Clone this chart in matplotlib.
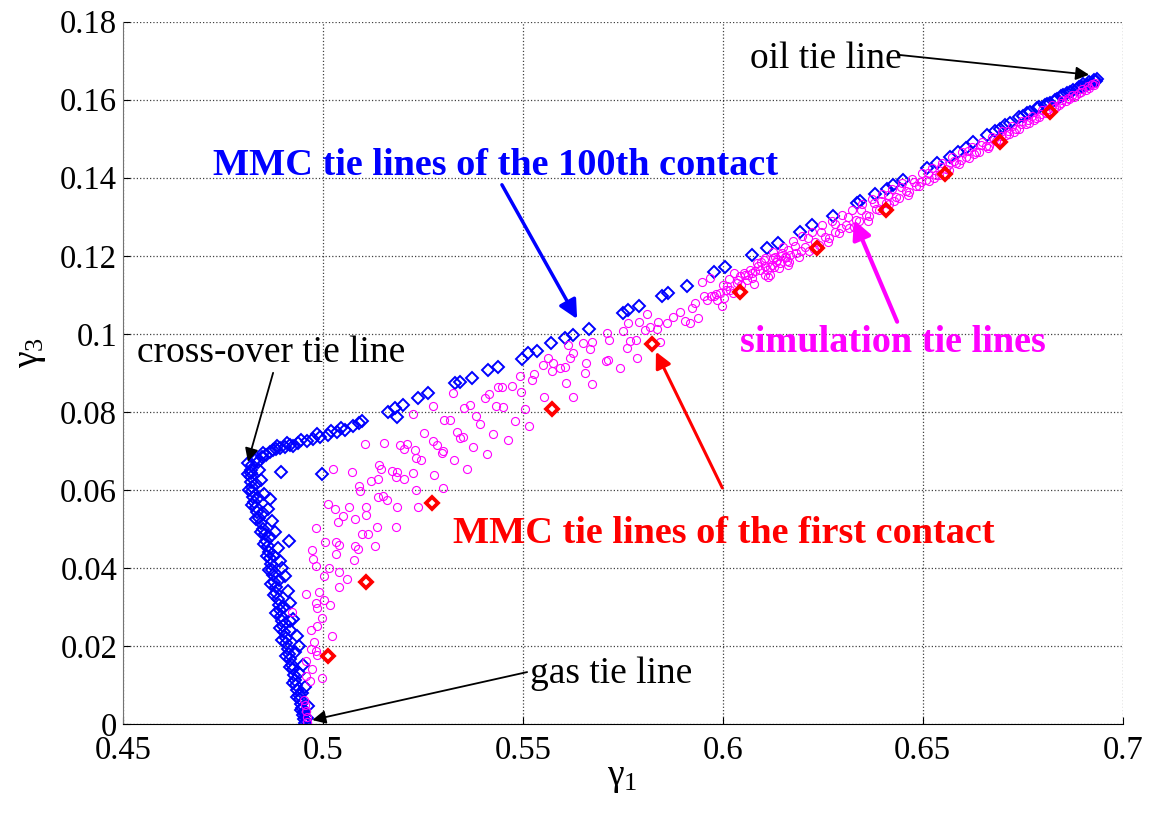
import numpy as np
import matplotlib
matplotlib.use('Agg')
import matplotlib.pyplot as plt

plt.rcParams['font.family'] = ['Liberation Serif', 'DejaVu Serif']

# MMC tie lines of the 100th contact (gamma_1, gamma_3)
mmc100 = np.array([
    # gas side branch
    (0.4955, 0.0003), (0.4953, 0.0012), (0.4950, 0.0022), (0.4952, 0.0030), (0.4947, 0.0041),
    (0.4945, 0.0052), (0.4942, 0.0063), (0.4940, 0.0075), (0.4936, 0.0088), (0.4934, 0.0100),
    (0.4930, 0.0112), (0.4928, 0.0125), (0.4925, 0.0140), (0.4922, 0.0152), (0.4919, 0.0166),
    (0.4915, 0.0180), (0.4913, 0.0193), (0.4909, 0.0207), (0.4907, 0.0220), (0.4904, 0.0236),
    (0.4900, 0.0250), (0.4898, 0.0263), (0.4895, 0.0278), (0.4892, 0.0292), (0.4890, 0.0305),
    (0.4887, 0.0320), (0.4884, 0.0336), (0.4882, 0.0350), (0.4879, 0.0365), (0.4876, 0.0381),
    (0.4874, 0.0395), (0.4871, 0.0410), (0.4868, 0.0425), (0.4865, 0.0440), (0.4862, 0.0455),
    (0.4858, 0.0470), (0.4855, 0.0486), (0.4850, 0.0500), (0.4845, 0.0514), (0.4840, 0.0528),
    (0.4836, 0.0542), (0.4832, 0.0556), (0.4829, 0.0570), (0.4826, 0.0583), (0.4824, 0.0596),
    (0.4822, 0.0608), (0.4821, 0.0620), (0.4820, 0.0632), (0.4820, 0.0643), (0.4821, 0.0652),
    (0.4960, 0.0015), (0.4949, 0.0080), (0.4940, 0.0130), (0.4930, 0.0185), (0.4918, 0.0240),
    (0.4903, 0.0300), (0.4890, 0.0370), (0.4878, 0.0430), (0.4868, 0.0480), (0.4850, 0.0540),
    (0.4838, 0.0580), (0.4832, 0.0615),
    (0.4962, 0.0045), (0.4955, 0.0095), (0.4950, 0.0150), (0.4940, 0.0200), (0.4935, 0.0225),
    (0.4926, 0.0270), (0.4918, 0.0310), (0.4912, 0.0340), (0.4905, 0.0380), (0.4898, 0.0400),
    (0.4893, 0.0418), (0.4888, 0.0450), (0.4880, 0.0492), (0.4873, 0.0520), (0.4864, 0.0550),
    (0.4853, 0.0590), (0.4845, 0.0625), (0.4840, 0.0650),
    (0.4945, 0.0035), (0.4935, 0.0070), (0.4926, 0.0105), (0.4918, 0.0145), (0.4908, 0.0175),
    (0.4899, 0.0215), (0.4893, 0.0245), (0.4884, 0.0285), (0.4878, 0.0330), (0.4871, 0.0360),
    (0.4866, 0.0395), (0.4860, 0.0430), (0.4854, 0.0460), (0.4845, 0.0492), (0.4832, 0.0525),
    (0.4824, 0.0560), (0.4815, 0.0600), (0.4812, 0.0640),
    # cross-over region
    (0.4813, 0.0669), (0.4823, 0.0664), (0.4831, 0.0677), (0.4838, 0.0672), (0.4848, 0.0685),
    (0.4858, 0.0690), (0.4868, 0.0697), (0.4876, 0.0703), (0.4883, 0.0705), (0.4893, 0.0708),
    (0.4906, 0.0710), (0.4918, 0.0715), (0.4926, 0.0713), (0.4938, 0.0721), (0.4961, 0.0726),
    (0.4976, 0.0731), (0.4993, 0.0736), (0.5013, 0.0741), (0.5036, 0.0749), (0.5056, 0.0754),
    (0.5076, 0.0764), (0.5098, 0.0777),
    (0.4850, 0.0695), (0.4885, 0.0712), (0.4910, 0.0720), (0.4945, 0.0728), (0.4985, 0.0742),
    (0.5020, 0.0752), (0.5045, 0.0758), (0.5090, 0.0772),
    # oil side branch
    (0.5163, 0.0800), (0.5181, 0.0810), (0.5201, 0.0818), (0.5238, 0.0836), (0.5263, 0.0849),
    (0.5331, 0.0874), (0.5343, 0.0877), (0.5373, 0.0887), (0.5413, 0.0908), (0.5438, 0.0915),
    (0.5498, 0.0936), (0.5513, 0.0951), (0.5536, 0.0956), (0.5571, 0.0977), (0.5606, 0.0990),
    (0.5626, 0.0997), (0.5666, 0.1013), (0.5751, 0.1054), (0.5763, 0.1062), (0.5791, 0.1072),
    (0.5848, 0.1097), (0.5863, 0.1105), (0.5911, 0.1123), (0.5978, 0.1159), (0.6006, 0.1172),
    (0.6073, 0.1203), (0.6111, 0.1221), (0.6138, 0.1233), (0.6193, 0.1262), (0.6223, 0.1279),
    (0.6276, 0.1303), (0.6336, 0.1336), (0.6343, 0.1341), (0.6381, 0.1359), (0.6411, 0.1372),
    (0.6426, 0.1382), (0.6451, 0.1395), (0.6511, 0.1426), (0.6536, 0.1438), (0.6568, 0.1454),
    (0.6588, 0.1467), (0.6608, 0.1477), (0.6626, 0.1492), (0.6661, 0.1510), (0.6693, 0.1526),
    (0.6718, 0.1541), (0.6751, 0.1559), (0.6768, 0.1569), (0.6786, 0.1579), (0.6806, 0.1587),
    (0.6818, 0.1592), (0.6836, 0.1603), (0.6851, 0.1613), (0.6868, 0.1621), (0.6886, 0.1628),
    (0.6898, 0.1633), (0.6911, 0.1638), (0.6923, 0.1644), (0.6933, 0.1649),
    (0.6680, 0.1520), (0.6705, 0.1535), (0.6740, 0.1555), (0.6760, 0.1566), (0.6790, 0.1582),
    (0.6810, 0.1590), (0.6830, 0.1600), (0.6845, 0.1610), (0.6860, 0.1618), (0.6875, 0.1625),
    (0.6890, 0.1632), (0.6900, 0.1640), (0.6915, 0.1645), (0.6928, 0.1650), (0.6935, 0.1652),
    # isolated points
    (0.4896, 0.0646), (0.4998, 0.0641), (0.4868, 0.0577), (0.4916, 0.0469), (0.4918, 0.0264),
    (0.5186, 0.0787),
])

# simulation tie lines
sim = np.array([
    (0.5226, 0.0794), (0.5254, 0.0746), (0.5106, 0.0717), (0.5153, 0.0719), (0.5193, 0.0714),
    (0.5210, 0.0718), (0.5204, 0.0704), (0.5231, 0.0703), (0.5232, 0.0681), (0.5246, 0.0677),
    (0.5026, 0.0654), (0.5072, 0.0647), (0.5141, 0.0663), (0.5145, 0.0653), (0.5174, 0.0649),
    (0.5185, 0.0645), (0.5183, 0.0634), (0.5204, 0.0628), (0.5225, 0.0643), (0.5139, 0.0628),
    (0.5121, 0.0622), (0.5090, 0.0609), (0.5093, 0.0598), (0.5232, 0.0599), (0.5137, 0.0583),
    (0.5151, 0.0585), (0.5160, 0.0575), (0.5185, 0.0556), (0.5012, 0.0563), (0.5030, 0.0551),
    (0.5066, 0.0557), (0.5108, 0.0555), (0.5108, 0.0535), (0.5051, 0.0534), (0.5037, 0.0518),
    (0.5081, 0.0526), (0.5237, 0.0556), (0.4983, 0.0501), (0.5135, 0.0506), (0.5182, 0.0506),
    (0.5098, 0.0486), (0.5112, 0.0486), (0.5006, 0.0466), (0.5033, 0.0466), (0.5041, 0.0459),
    (0.5081, 0.0455), (0.5087, 0.0449), (0.5131, 0.0457), (0.4973, 0.0446), (0.4975, 0.0424),
    (0.5033, 0.0436), (0.5078, 0.0421), (0.4983, 0.0406), (0.5016, 0.0400), (0.5004, 0.0380),
    (0.5041, 0.0389), (0.5060, 0.0372), (0.5041, 0.0350), (0.4958, 0.0333), (0.4990, 0.0339),
    (0.5003, 0.0318), (0.5017, 0.0306), (0.4983, 0.0309), (0.4985, 0.0297), (0.4924, 0.0286),
    (0.4997, 0.0271), (0.4986, 0.0252), (0.4970, 0.0241), (0.5023, 0.0226), (0.4978, 0.0210),
    (0.4970, 0.0192), (0.4982, 0.0188), (0.4986, 0.0178), (0.4957, 0.0162), (0.4973, 0.0140),
    (0.4958, 0.0124), (0.4998, 0.0119), (0.4967, 0.0110), (0.4953, 0.0062), (0.4956, 0.0049),
    (0.4958, 0.0032), (0.4960, 0.0019), (0.4961, 0.0006),
    (0.5276, 0.0816), (0.5276, 0.0725), (0.5285, 0.0715), (0.5300, 0.0700), (0.5299, 0.0694),
    (0.5279, 0.0638), (0.5300, 0.0606), (0.5304, 0.0779), (0.5318, 0.0779), (0.5326, 0.0849),
    (0.5335, 0.0749), (0.5343, 0.0732), (0.5351, 0.0736), (0.5328, 0.0676), (0.5360, 0.0653),
    (0.5375, 0.0709), (0.5354, 0.0809), (0.5368, 0.0818), (0.5383, 0.0789), (0.5393, 0.0768),
    (0.5410, 0.0692), (0.5426, 0.0743), (0.5433, 0.0815), (0.5451, 0.0812), (0.5439, 0.0864),
    (0.5447, 0.0864), (0.5406, 0.0835), (0.5416, 0.0847), (0.5472, 0.0866), (0.5481, 0.0777),
    (0.5463, 0.0729), (0.5493, 0.0892), (0.5495, 0.0851), (0.5506, 0.0806), (0.5516, 0.0764),
    (0.5522, 0.0882), (0.5528, 0.0896), (0.5551, 0.0920), (0.5564, 0.0937), (0.5576, 0.0926),
    (0.5572, 0.0905), (0.5553, 0.0839), (0.5593, 0.0912), (0.5606, 0.0914), (0.5608, 0.0875),
    (0.5618, 0.0937), (0.5625, 0.0952), (0.5614, 0.0971), (0.5625, 0.0839), (0.5651, 0.0976),
    (0.5658, 0.0924), (0.5656, 0.0900), (0.5672, 0.0871), (0.5668, 0.0960), (0.5672, 0.0978),
    (0.5708, 0.0930), (0.5714, 0.0933), (0.5710, 0.1001), (0.5716, 0.0984), (0.5743, 0.0912),
    (0.5750, 0.1006), (0.5763, 0.1027), (0.5760, 0.0963), (0.5768, 0.0982), (0.5783, 0.0984),
    (0.5785, 0.0937), (0.5791, 0.1029), (0.5810, 0.1050), (0.5806, 0.1010), (0.5818, 0.1017),
    (0.5835, 0.1012), (0.5839, 0.1029), (0.5843, 0.0980), (0.5860, 0.1027), (0.5876, 0.1042),
    (0.5893, 0.1057), (0.5906, 0.1033), (0.5918, 0.1027), (0.5922, 0.1065), (0.5931, 0.1078),
    (0.5939, 0.1040),
    (0.5948, 0.1132), (0.5952, 0.1097), (0.5960, 0.1087), (0.5968, 0.1143), (0.5970, 0.1096),
    (0.5978, 0.1097), (0.5983, 0.1103), (0.5985, 0.1087), (0.5993, 0.1104), (0.5997, 0.1070),
    (0.6004, 0.1091), (0.6008, 0.1113), (0.6010, 0.1123), (0.6018, 0.1113), (0.6028, 0.1157),
    (0.6035, 0.1130), (0.6039, 0.1138), (0.6043, 0.1147), (0.6052, 0.1155), (0.6056, 0.1151),
    (0.6060, 0.1138), (0.6067, 0.1164), (0.6073, 0.1155), (0.6081, 0.1160), (0.6073, 0.1143),
    (0.6085, 0.1181), (0.6089, 0.1173), (0.6093, 0.1164), (0.6102, 0.1190), (0.6106, 0.1173),
    (0.6110, 0.1164), (0.6122, 0.1177), (0.6125, 0.1194), (0.6118, 0.1151), (0.6131, 0.1198),
    (0.6135, 0.1190), (0.6143, 0.1181), (0.6148, 0.1207), (0.6156, 0.1198), (0.6160, 0.1186),
    (0.6164, 0.1215), (0.6168, 0.1203),
    (0.6105, 0.1152), (0.6105, 0.1195), (0.6118, 0.1170), (0.6126, 0.1210), (0.6133, 0.1183),
    (0.6141, 0.1168), (0.6150, 0.1222), (0.6158, 0.1196), (0.6166, 0.1185), (0.6175, 0.1238),
    (0.6183, 0.1207), (0.6190, 0.1196), (0.6198, 0.1250), (0.6206, 0.1222), (0.6215, 0.1212),
    (0.6223, 0.1262), (0.6231, 0.1235), (0.6240, 0.1228), (0.6248, 0.1278), (0.6256, 0.1248),
    (0.6265, 0.1245), (0.6273, 0.1290), (0.6281, 0.1262), (0.6290, 0.1258), (0.6298, 0.1305),
    (0.6307, 0.1280), (0.6315, 0.1272), (0.6323, 0.1318), (0.6332, 0.1292), (0.6340, 0.1288),
    (0.6348, 0.1332), (0.6357, 0.1305), (0.6365, 0.1302), (0.6373, 0.1345), (0.6382, 0.1320),
    (0.6390, 0.1318), (0.6398, 0.1358), (0.6407, 0.1335), (0.6415, 0.1332), (0.6423, 0.1372),
    (0.6432, 0.1350), (0.6440, 0.1348), (0.6448, 0.1386), (0.6457, 0.1365), (0.6465, 0.1364),
    (0.6473, 0.1398), (0.6482, 0.1380), (0.6490, 0.1378), (0.6498, 0.1412), (0.6507, 0.1394),
    (0.6515, 0.1392), (0.6523, 0.1425), (0.6532, 0.1408), (0.6540, 0.1407), (0.6548, 0.1438),
    (0.6557, 0.1423), (0.6565, 0.1421), (0.6573, 0.1452), (0.6582, 0.1437), (0.6590, 0.1436),
    (0.6598, 0.1465), (0.6607, 0.1452), (0.6615, 0.1451), (0.6623, 0.1478), (0.6632, 0.1466),
    (0.6640, 0.1466), (0.6648, 0.1492), (0.6657, 0.1481), (0.6665, 0.1481), (0.6673, 0.1505),
    (0.6682, 0.1495), (0.6690, 0.1496), (0.6698, 0.1519), (0.6707, 0.1510), (0.6715, 0.1511),
    (0.6723, 0.1532), (0.6732, 0.1524), (0.6740, 0.1526), (0.6748, 0.1546), (0.6757, 0.1539),
    (0.6765, 0.1541), (0.6773, 0.1559), (0.6782, 0.1553), (0.6790, 0.1556), (0.6798, 0.1573),
    (0.6807, 0.1567), (0.6815, 0.1571), (0.6823, 0.1586), (0.6832, 0.1582), (0.6840, 0.1586),
    (0.6848, 0.1600), (0.6857, 0.1596), (0.6865, 0.1601), (0.6873, 0.1613), (0.6882, 0.1611),
    (0.6890, 0.1616), (0.6898, 0.1627), (0.6907, 0.1626), (0.6915, 0.1631), (0.6923, 0.1640),
    (0.6930, 0.1642),
    (0.6000, 0.1125), (0.6015, 0.1140), (0.6025, 0.1105), (0.6045, 0.1125), (0.6063, 0.1150),
    (0.6078, 0.1128), (0.6095, 0.1185), (0.6112, 0.1145), (0.6128, 0.1172), (0.6145, 0.1200),
    (0.6162, 0.1176), (0.6180, 0.1225), (0.6195, 0.1212), (0.6212, 0.1245), (0.6228, 0.1218),
    (0.6245, 0.1262), (0.6262, 0.1235), (0.6280, 0.1282), (0.6295, 0.1270), (0.6312, 0.1300),
    (0.6328, 0.1275), (0.6345, 0.1318), (0.6362, 0.1290), (0.6378, 0.1335), (0.6395, 0.1340),
    (0.6412, 0.1355), (0.6428, 0.1340), (0.6445, 0.1375), (0.6462, 0.1355), (0.6478, 0.1390),
    (0.6495, 0.1388), (0.6512, 0.1412), (0.6528, 0.1400), (0.6545, 0.1428), (0.6562, 0.1432),
    (0.6578, 0.1444), (0.6595, 0.1445), (0.6612, 0.1468), (0.6628, 0.1460), (0.6645, 0.1485),
    (0.6662, 0.1475), (0.6678, 0.1500), (0.6695, 0.1506), (0.6712, 0.1520), (0.6728, 0.1516),
    (0.6745, 0.1538), (0.6762, 0.1548), (0.6778, 0.1549), (0.6795, 0.1564), (0.6812, 0.1577),
    (0.6828, 0.1578), (0.6845, 0.1592), (0.6862, 0.1604), (0.6878, 0.1607), (0.6895, 0.1620),
    (0.6912, 0.1635), (0.6927, 0.1637),
])

# MMC tie lines of the first contact
mmc1 = np.array([
    (0.5012, 0.0174), (0.5108, 0.0365), (0.5273, 0.0567), (0.5573, 0.0808), (0.5824, 0.0974),
    (0.6042, 0.1107), (0.6235, 0.1220), (0.6407, 0.1318), (0.6555, 0.1410), (0.6693, 0.1492),
    (0.6818, 0.1568),
])

xticks = [0.45, 0.5, 0.55, 0.6, 0.65, 0.7]
xtick_labels = ['0.45', '0.5', '0.55', '0.6', '0.65', '0.7']
yticks = [0, 0.02, 0.04, 0.06, 0.08, 0.1, 0.12, 0.14, 0.16, 0.18]
ytick_labels = ['0', '0.02', '0.04', '0.06', '0.08', '0.1', '0.12', '0.14', '0.16', '0.18']

magenta = '#ff00ff'

fig, ax = plt.subplots(figsize=(11.5, 8.15), dpi=100)
fig.subplots_adjust(left=0.1067, right=0.9763, bottom=0.1117, top=0.9734)

ax.plot(mmc100[:, 0], mmc100[:, 1], ls='none', marker='D', ms=6,
        mfc='none', mec='b', mew=1.4)
ax.plot(sim[:, 0], sim[:, 1], ls='none', marker='o', ms=5.8,
        mfc='none', mec=magenta, mew=0.8)
ax.plot(mmc1[:, 0], mmc1[:, 1], ls='none', marker='D', ms=6,
        mfc='none', mec='r', mew=2.7)

ax.set_xlim(0.45, 0.7)
ax.set_ylim(0, 0.18)
ax.set_xticks(xticks)
ax.set_xticklabels(xtick_labels)
ax.set_yticks(yticks)
ax.set_yticklabels(ytick_labels)
ax.tick_params(direction='in', length=5, width=0.8, labelsize=23.5, pad=4)
ax.tick_params(axis='x', pad=8)

ax.grid(True, ls=':', color='k', lw=0.9, alpha=0.75)
ax.spines['top'].set_visible(False)
ax.spines['right'].set_visible(False)
ax.spines['left'].set_color('0.45')
ax.spines['bottom'].set_color('k')

fig.text(0.5415, 0.025, r'$\mathregular{γ_1}$', fontsize=27, ha='center', va='bottom')
fig.text(0.012, 0.567, r'$\mathregular{γ_3}$', fontsize=27, rotation=90,
         ha='left', va='center')

# labels and arrows
ax.text(0.6068, 0.1682, 'oil tie line', fontsize=27, color='k')
ax.annotate('', xy=(0.6916, 0.1664), xytext=(0.6439, 0.1715),
            arrowprops=dict(arrowstyle='-|>', color='k', lw=1.3,
                            mutation_scale=20, shrinkA=0, shrinkB=0))

ax.text(0.4726, 0.1408, 'MMC tie lines of the 100th contact', fontsize=27.5,
        color='b', fontweight='bold')
ax.annotate('', xy=(0.5636, 0.1038), xytext=(0.5448, 0.1382),
            arrowprops=dict(arrowstyle='-|>', color='b', lw=2.5,
                            mutation_scale=28, shrinkA=0, shrinkB=0))

ax.text(0.4536, 0.0928, 'cross-over tie line', fontsize=27, color='k')
ax.annotate('', xy=(0.4813, 0.0672), xytext=(0.4876, 0.0900),
            arrowprops=dict(arrowstyle='-|>', color='k', lw=1.3,
                            mutation_scale=20, shrinkA=0, shrinkB=0))

ax.text(0.6043, 0.0954, 'simulation tie lines', fontsize=27.5,
        color=magenta, fontweight='bold')
ax.annotate('', xy=(0.6328, 0.1292), xytext=(0.6436, 0.1031),
            arrowprops=dict(arrowstyle='-|>', color=magenta, lw=3,
                            mutation_scale=28, shrinkA=0, shrinkB=0))

ax.text(0.5326, 0.0464, 'MMC tie lines of the first contact', fontsize=27.5,
        color='r', fontweight='bold')
ax.annotate('', xy=(0.5833, 0.0954), xytext=(0.5999, 0.0605),
            arrowprops=dict(arrowstyle='-|>', color='r', lw=2.2,
                            mutation_scale=24, shrinkA=0, shrinkB=0))

ax.text(0.5518, 0.0105, 'gas tie line', fontsize=27, color='k')
ax.annotate('', xy=(0.4974, 0.0010), xytext=(0.5511, 0.0133),
            arrowprops=dict(arrowstyle='-|>', color='k', lw=1.3,
                            mutation_scale=20, shrinkA=0, shrinkB=0))

fig.savefig('out.png', dpi=100)
